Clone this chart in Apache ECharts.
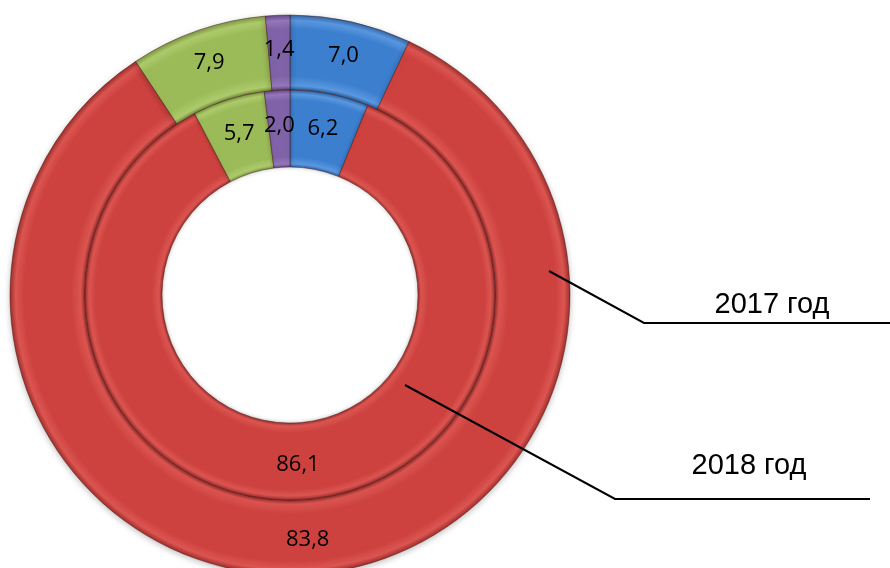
<!DOCTYPE html>
<html>
<head>
<meta charset="utf-8">
<script src="https://cdn.jsdelivr.net/npm/echarts@6/dist/echarts.min.js"></script>
<style>html,body{margin:0;padding:0;background:#fff}#c{width:890px;height:568px}</style>
</head>
<body>
<div id="c"></div>
<script>
const categories = ['Синий', 'Красный', 'Зелёный', 'Фиолетовый'];
const values2017 = [7.0, 83.8, 7.9, 1.4];
const values2018 = [6.2, 86.1, 5.7, 2.0];
const seriesNames = ['2017 год', '2018 год'];
const colors = ['#3c7fcf', '#cd423e', '#9bbb59', '#8062a8'];
const lighter = ['#5a98e0', '#dc5551', '#aecb6c', '#9478bb'];
const darker = ['#2f66a8', '#9e302d', '#7c9a44', '#654b8a'];

const CX = 290, CY = 295;
function ringColor(i, r0, r1) {
  return {
    type: 'radial', x: CX, y: CY, r: r1, global: true,
    colorStops: [
      {offset: r0 / r1, color: darker[i]},
      {offset: r0 / r1 + 0.015, color: lighter[i]},
      {offset: r0 / r1 + 0.05, color: colors[i]},
      {offset: 0.95, color: colors[i]},
      {offset: 0.98, color: lighter[i]},
      {offset: 1, color: darker[i]}
    ]
  };
}
function mk(vals, r0, r1) {
  return categories.map((c, i) => ({
    name: c, value: vals[i],
    itemStyle: {color: ringColor(i, r0, r1)}
  }));
}
const labelCfg = {
  show: true, position: 'inside', color: '#000', fontSize: 22,
  fontFamily: 'Open Sans',
  formatter: p => p.value.toFixed(1).replace('.', ',')
};
const chart = echarts.init(document.getElementById('c'));
chart.setOption({
  animation: false,
  series: [
    {
      name: seriesNames[0], type: 'pie', center: [CX, CY], radius: [205, 280],
      startAngle: 90, clockwise: true, silent: true,
      itemStyle: {borderColor: 'rgba(70,15,15,0.45)', borderWidth: 1, shadowBlur: 6, shadowColor: 'rgba(0,0,0,0.25)', shadowOffsetY: 2},
      label: labelCfg, labelLine: {show: false},
      data: mk(values2017, 205, 280)
    },
    {
      name: seriesNames[1], type: 'pie', center: [CX, CY], radius: [128, 205],
      startAngle: 90, clockwise: true, silent: true,
      itemStyle: {borderColor: 'rgba(70,15,15,0.45)', borderWidth: 1, shadowBlur: 4, shadowColor: 'rgba(0,0,0,0.25)'},
      label: labelCfg, labelLine: {show: false},
      data: mk(values2018, 128, 205)
    }
  ],
  graphic: [
    {type: 'polyline', shape: {points: [[549, 271], [644, 323], [890, 323]]}, style: {stroke: '#000', lineWidth: 2, fill: null}, z: 100},
    {type: 'polyline', shape: {points: [[405, 385], [615, 499], [870, 499]]}, style: {stroke: '#000', lineWidth: 2, fill: null}, z: 100},
    {type: 'text', x: 772, y: 305, style: {text: seriesNames[0], font: '29px "Liberation Sans"', fill: '#000', textAlign: 'center', textVerticalAlign: 'middle'}, z: 100},
    {type: 'text', x: 749, y: 466, style: {text: seriesNames[1], font: '29px "Liberation Sans"', fill: '#000', textAlign: 'center', textVerticalAlign: 'middle'}, z: 100}
  ]
});
</script>
</body>
</html>
